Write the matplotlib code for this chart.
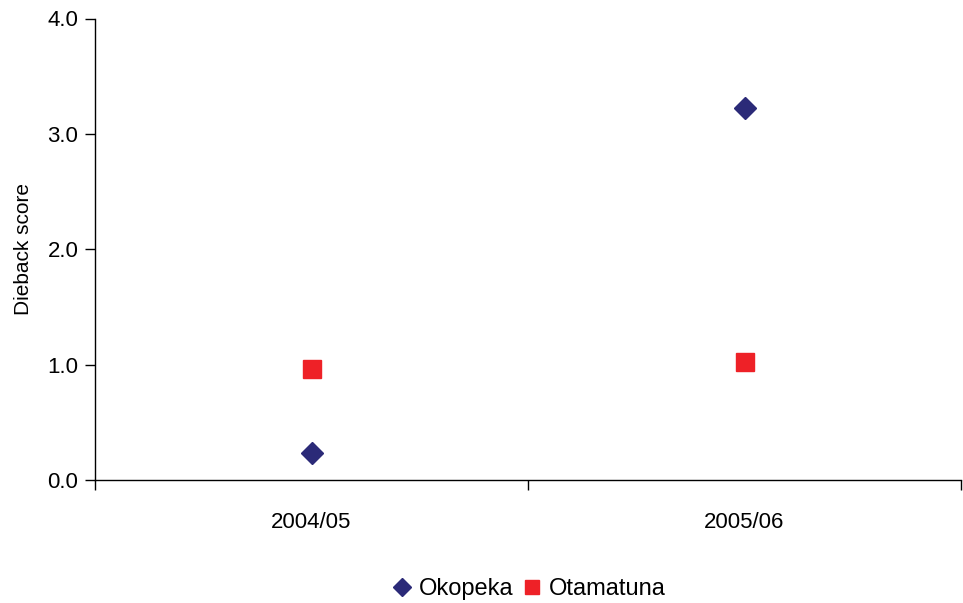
import numpy as np
import matplotlib.pyplot as plt
from matplotlib.ticker import FixedLocator

plt.rcParams['font.family'] = ['Liberation Sans Narrow', 'Liberation Sans', 'DejaVu Sans']

# data
seasons = ['2004/05', '2005/06']
okopeka = [0.235, 3.22]
otamatuna = [0.96, 1.02]

x = np.arange(len(seasons))

fig = plt.figure(figsize=(9.63, 6.03), dpi=100)
ax = fig.add_axes([95 / 963, 1 - 480 / 603, 866 / 963, 461.5 / 603])

ax.plot(x, okopeka, linestyle='none', marker='D', markersize=11.5,
        color='#2B2A78', label='Okopeka')
ax.plot(x, otamatuna, linestyle='none', marker='s', markersize=12.5,
        color='#EE2127', label='Otamatuna')

ax.set_xlim(-0.5, len(seasons) - 0.5)
ax.set_ylim(0, 4)
ax.set_yticks([0, 1, 2, 3, 4])
ax.set_yticklabels(['0.0', '1.0', '2.0', '3.0', '4.0'], fontsize=16)

# category boundaries carry the tick marks, labels sit in the middle
ax.xaxis.set_major_locator(FixedLocator(np.arange(len(seasons) + 1) - 0.5))
ax.set_xticklabels([''] * (len(seasons) + 1))
ax.set_xticks(x, minor=True)
ax.set_xticklabels(seasons, minor=True, fontsize=16)
ax.tick_params(axis='x', which='minor', length=0, pad=23)
ax.tick_params(axis='x', which='major', length=7, direction='out', width=1)
ax.tick_params(axis='y', length=7, direction='out', width=1, pad=5)

for side in ['top', 'right']:
    ax.spines[side].set_visible(False)
ax.spines['left'].set_linewidth(1)
ax.spines['bottom'].set_linewidth(1)

ax.set_ylabel('Dieback score', fontsize=15, labelpad=10)

fig.legend(loc='center', bbox_to_anchor=(528 / 963, 1 - 589 / 603), ncol=2,
           frameon=False, fontsize=17, handletextpad=0.2, columnspacing=0.3,
           handlelength=1.0, markerscale=0.8)

fig.savefig('out.png', dpi=100)
